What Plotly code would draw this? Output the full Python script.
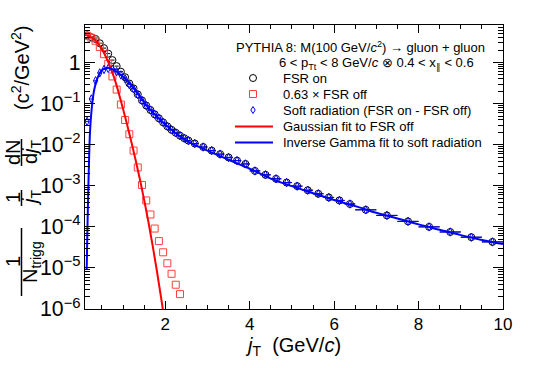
import plotly.graph_objects as go

# bin centres (GeV/c): 0.1 wide up to 2.6, 0.2 up to 4, 0.25 up to 6.5, 0.5 up to 10
jt = [0.15, 0.25, 0.35, 0.45, 0.55, 0.65, 0.75, 0.85, 0.95, 1.05,
      1.15, 1.25, 1.35, 1.45, 1.55, 1.65, 1.75, 1.85, 1.95, 2.05,
      2.15, 2.25, 2.35, 2.45, 2.55,
      2.7, 2.9, 3.1, 3.3, 3.5, 3.7, 3.9,
      4.125, 4.375, 4.625, 4.875, 5.125, 5.375, 5.625, 5.875, 6.125, 6.375,
      6.75, 7.25, 7.75, 8.25, 8.75, 9.25, 9.75]
jt_halfwidth = [0.05] * 25 + [0.1] * 7 + [0.125] * 10 + [0.25] * 7

fsr_on = [4.6, 4.15, 3.75, 2.95, 2.25, 1.65, 1.15, 0.82, 0.60, 0.44,
          0.31, 0.235, 0.168, 0.12, 0.09, 0.07, 0.055, 0.044, 0.035, 0.028,
          0.023, 0.0195, 0.0166, 0.0144, 0.0126,
          0.0107, 0.0088, 0.0072, 0.0059, 0.0049, 0.0041, 0.0034,
          0.0023, 0.00185, 0.00148, 0.0012, 0.00098, 0.00078, 0.00064, 0.00052, 0.00044, 0.00036,
          0.00026, 0.00019, 0.000136, 0.0001, 7.5e-5, 5.6e-5, 4.3e-5]

soft_rad = [0.037, 0.13, 0.36, 0.56, 0.68, 0.72, 0.69, 0.60, 0.50, 0.40,
            0.29, 0.228, 0.165, 0.119, 0.0896, 0.0698, 0.0549, 0.044, 0.035, 0.028,
            0.023, 0.0195, 0.0166, 0.0144, 0.0126,
            0.0107, 0.0088, 0.0072, 0.0059, 0.0049, 0.0041, 0.0034,
            0.0023, 0.00185, 0.00148, 0.0012, 0.00098, 0.00078, 0.00064, 0.00052, 0.00044, 0.00036,
            0.00026, 0.00019, 0.000136, 0.0001, 7.5e-5, 5.6e-5, 4.3e-5]

jt_off = [0.15, 0.25, 0.35, 0.45, 0.55, 0.65, 0.75, 0.85, 0.95, 1.05,
          1.15, 1.25, 1.35, 1.45, 1.55, 1.65, 1.75, 1.85, 1.95, 2.05,
          2.15, 2.25, 2.35]
fsr_off_scaled = [4.5, 4.0, 3.4, 2.4, 1.6, 0.93, 0.46, 0.22, 0.095, 0.04,
                  0.018, 0.0072, 0.0028, 0.00105, 4.4e-4, 2.0e-4, 9.1e-5, 4.5e-5, 2.4e-5, 1.3e-5,
                  7.2e-6, 3.9e-6, 2.3e-6]

# fit curves
gaus_x = [0.1, 0.2, 0.3, 0.4, 0.5, 0.6, 0.7, 0.8, 0.9, 1.0,
          1.1, 1.2, 1.3, 1.4, 1.5, 1.6, 1.7, 1.8, 1.9, 2.0]
gaus_y = [4.7, 4.4, 3.8, 3.0, 2.1, 1.35, 0.78, 0.40, 0.18, 0.075,
          0.03, 0.0115, 0.0042, 0.00145, 4.6e-4, 1.35e-4, 3.6e-5, 8.8e-6, 1.95e-6, 4e-7]

igam_x = [0.14, 0.16, 0.18, 0.2, 0.22, 0.25, 0.3, 0.35, 0.4, 0.45, 0.5, 0.55, 0.6, 0.65,
          0.7, 0.8, 0.9, 1.0, 1.2, 1.4, 1.6, 1.8, 2.0, 2.5, 3.0, 3.5, 4.0, 4.5,
          5.0, 5.5, 6.0, 6.5, 7.0, 7.5, 8.0, 8.5, 9.0, 9.5, 10.0]
igam_y = [9e-6, 1.2e-4, 1.0e-3, 6e-3, 0.022, 0.06, 0.17, 0.30, 0.43, 0.55, 0.64, 0.70, 0.73, 0.74,
          0.72, 0.65, 0.55, 0.45, 0.28, 0.15, 0.08, 0.049, 0.031, 0.0125, 0.0072, 0.0043, 0.0026, 0.0015,
          0.00098, 0.00066, 0.00045, 0.00032, 0.00022, 0.00016, 0.000115, 8.5e-5, 6.3e-5, 4.8e-5, 3.8e-5]

legend_labels = ["FSR on", "0.63 × FSR off", "Soft radiation (FSR on - FSR off)",
                 "Gaussian fit to FSR off", "Inverse Gamma fit to soft radiation"]

FONT = "Liberation Sans, Arial, Helvetica, sans-serif"
L, R, T, B = 85, 503, 25, 309   # frame in pixels
RED_MK = "#ff4040"


def px(x):
    return (x - L) / (R - L)


def py(y):
    return (B - y) / (B - T)


fig = go.Figure()

fig.add_trace(go.Scatter(
    x=jt, y=fsr_on, mode="markers", name=legend_labels[0],
    marker=dict(symbol="circle-open", size=7, color="black", line=dict(width=1)),
    error_x=dict(type="data", array=jt_halfwidth, width=0, thickness=1, color="black"),
))
fig.add_trace(go.Scatter(
    x=jt_off, y=fsr_off_scaled, mode="markers", name=legend_labels[1],
    marker=dict(symbol="square-open", size=7, color=RED_MK, line=dict(width=1)),
))
fig.add_trace(go.Scatter(
    x=jt, y=soft_rad, mode="markers", name=legend_labels[2],
    marker=dict(symbol="diamond-tall-open", size=6, color="blue", line=dict(width=1)),
    error_x=dict(type="data", array=jt_halfwidth, width=0, thickness=1, color="blue"),
))
fig.add_trace(go.Scatter(
    x=gaus_x, y=gaus_y, mode="lines", name=legend_labels[3],
    line=dict(color="red", width=2, shape="spline"),
))
fig.add_trace(go.Scatter(
    x=igam_x, y=igam_y, mode="lines", name=legend_labels[4],
    line=dict(color="blue", width=2, shape="spline"),
))

axis_common = dict(
    showline=True, linecolor="black", linewidth=1, mirror="ticks",
    ticks="inside", tickcolor="black", showgrid=False, zeroline=False,
    automargin=False,
    tickfont=dict(family=FONT, size=17, color="black"),
)
fig.update_xaxes(
    range=[0.1, 10], tick0=0, dtick=2, ticklen=8,
    minor=dict(ticks="inside", dtick=0.5, tick0=0, ticklen=4, tickcolor="black", showgrid=False),
    **axis_common,
)
fig.update_yaxes(
    type="log", range=[-6, 0.915], dtick=1, ticklen=10,
    exponentformat="power",
    minor=dict(ticks="inside", dtick="D1", ticklen=5, tickcolor="black", showgrid=False),
    **axis_common,
)

anns = []
shapes = []
small = dict(family=FONT, size=13, color="black")
big = dict(family=FONT, size=20, color="black")

# header lines
anns.append(dict(x=px(487), y=py(47), xanchor="right", yanchor="middle", font=small,
                 text="PYTHIA 8: M(100 GeV/<i>c</i><sup>2</sup>) → gluon + gluon"))
anns.append(dict(x=px(476), y=py(63), xanchor="right", yanchor="middle", font=small,
                 text="6 &lt; p<sub>Tt</sub> &lt; 8 GeV/<i>c</i> ⊗ 0.4 &lt; x<sub>∥</sub> &lt; 0.6"))

# hand-made legend (ROOT style, tight rows)
rows = [78, 94, 110, 126.5, 142.5]
for lab, yy in zip(legend_labels, rows):
    anns.append(dict(x=px(281), y=py(yy), xanchor="left", yanchor="middle", font=small, text=lab))
mx = 253
shapes.append(dict(type="circle", x0=px(mx - 3.5), x1=px(mx + 3.5), y0=py(rows[0] - 3.5), y1=py(rows[0] + 3.5),
                   line=dict(color="black", width=1)))
shapes.append(dict(type="rect", x0=px(mx - 3.5), x1=px(mx + 3.5), y0=py(rows[1] - 3.5), y1=py(rows[1] + 3.5),
                   line=dict(color=RED_MK, width=1)))
d = rows[2]
shapes.append(dict(type="path", line=dict(color="blue", width=1),
                   path="M {} {} L {} {} L {} {} L {} {} Z".format(
                       px(mx), py(d - 3.5), px(mx + 2.2), py(d), px(mx), py(d + 3.5), px(mx - 2.2), py(d))))
shapes.append(dict(type="line", x0=px(235), x1=px(273), y0=py(rows[3]), y1=py(rows[3]),
                   line=dict(color="red", width=2)))
shapes.append(dict(type="line", x0=px(235), x1=px(273), y0=py(rows[4]), y1=py(rows[4]),
                   line=dict(color="blue", width=2)))

# x-axis title
anns.append(dict(x=px(293), y=py(346), xanchor="center", yanchor="middle", font=big,
                 text="<i>j</i><sub>T</sub>  (GeV/<i>c</i>)"))

# y-axis title built from rotated pieces
ytitle = [
    ("(c<sup>2</sup>/GeV<sup>2</sup>)", 20, 68),
    ("dN", 13, 152), ("d<i>j</i><sub>T</sub>", 31, 152),
    ("1", 13, 198), ("<i>j</i><sub>T</sub>", 31, 198),
    ("1", 13, 262), ("N<sub>trigg</sub>", 31, 262),
]
for txt, xx, yy in ytitle:
    anns.append(dict(x=px(xx), y=py(yy), xanchor="center", yanchor="middle",
                     textangle=-90, text=txt, font=big))
for a, b in [(139, 166), (190, 206), (228, 296)]:
    shapes.append(dict(type="line", x0=px(21.5), x1=px(21.5), y0=py(a), y1=py(b),
                       line=dict(color="black", width=1.5)))

for a in anns:
    a.update(xref="paper", yref="paper", showarrow=False)
for s in shapes:
    s.update(xref="paper", yref="paper")

fig.update_layout(
    width=540, height=368,
    margin=dict(l=L, r=540 - R, t=T, b=368 - B, pad=0),
    paper_bgcolor="white", plot_bgcolor="white",
    font=dict(family=FONT, color="black"),
    annotations=anns, shapes=shapes,
    showlegend=False,
)

# drop the browser's default body margin so the figure sits at the window corner
fig.write_html("out.html", config={"displayModeBar": False},
               post_script="document.body.style.margin='0';")
